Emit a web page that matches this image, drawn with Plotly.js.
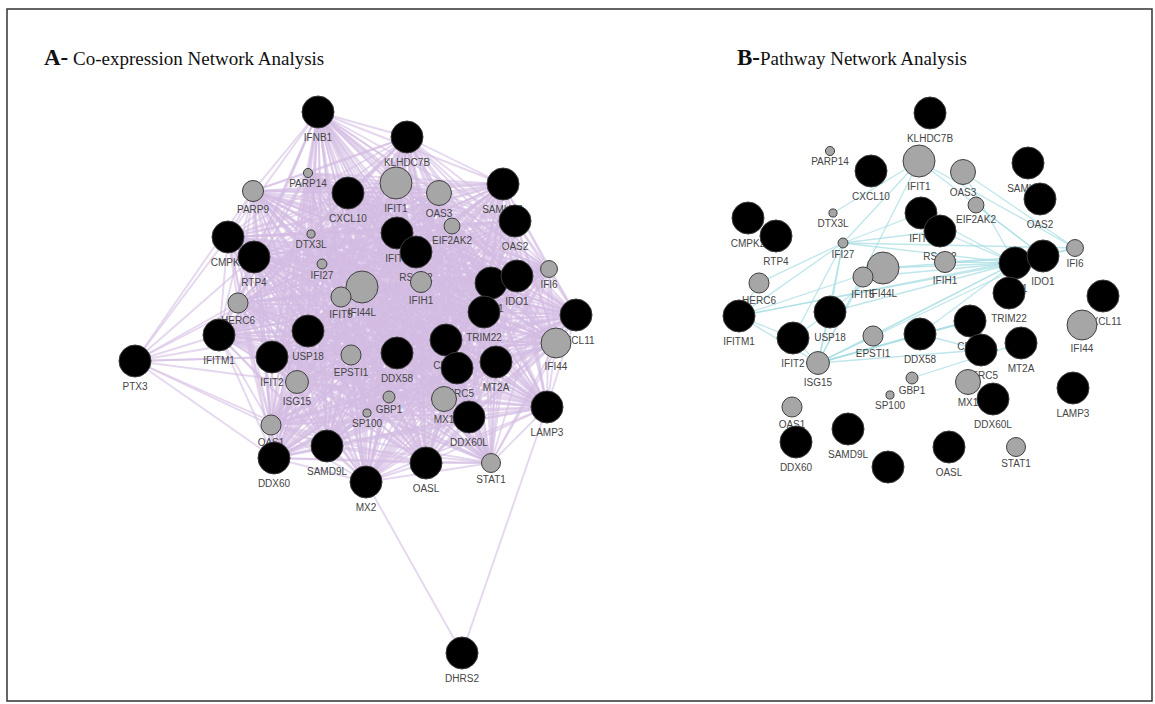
<!DOCTYPE html>
<html><head><meta charset="utf-8">
<script src="https://cdn.plot.ly/plotly-3.0.1.min.js"></script>
<style>html,body{margin:0;padding:0;background:#fff}#chart{width:1155px;height:704px}</style>
</head><body><div id="chart"></div>
<script>
// ---------------- DATA ----------------
// Query genes (black nodes)
const queryGenes = ['IFNB1','KLHDC7B','CXCL10','SAMHD1','OAS2','IFIT3','RSAD2','CMPK2','RTP4','IDO1','XAF1','TRIM22','CXCL11','IFITM1','USP18','IFIT2','DDX58','CD38','HERC5','MT2A','DDX60L','LAMP3','DDX60','SAMD9L','MX2','OASL','PTX3','DHRS2'];
// Related genes (grey nodes) and their scores
const relatedGenes = ['PARP14','PARP9','IFIT1','OAS3','EIF2AK2','IFIH1','DTX3L','IFI27','IFI44L','IFIT5','IFI6','HERC6','ISG15','EPSTI1','GBP1','SP100','MX1','IFI44','OAS1','STAT1'];
const relatedScore = [0.12,0.58,1.0,0.73,0.38,0.58,0.08,0.15,1.0,0.54,0.42,0.54,0.65,0.54,0.23,0.08,0.73,0.92,0.54,0.50];

// Panel A: co-expression network layout (layout coordinates)
const nodesA = ['IFNB1','KLHDC7B','PARP14','PARP9','CXCL10','IFIT1','OAS3','SAMHD1','OAS2','EIF2AK2','DTX3L','IFI27','CMPK2','RTP4','IFIT3','RSAD2','IFIH1','IFI44L','IFIT5','IFI6','XAF1','IDO1','TRIM22','CXCL11','IFI44','HERC6','IFITM1','PTX3','USP18','IFIT2','ISG15','EPSTI1','DDX58','CD38','HERC5','MT2A','GBP1','SP100','MX1','DDX60L','LAMP3','OAS1','DDX60','SAMD9L','MX2','OASL','STAT1','DHRS2'];
const layoutXA = [318,407,308,253,348,396,439,503,515,452,311,322,228,254,397,416,421,362,341,549,491,517,484,576,556,238,219,135,308,272,297,351,397,446,457,496,389,367,444,469,547,271,274,327,366,426,491,462];
const layoutYA = [112,137,173,191,193,183,193,184,221,226,234,264,237,257,233,252,282,287,297,269,283,276,312,315,343,303,335,361,331,357,382,355,353,340,368,362,397,413,399,417,407,425,458,446,482,463,463,653];
const ptx3Links = ['PARP9','CMPK2','RTP4','HERC6','IFITM1','IFIT2','USP18','ISG15','OAS1','DDX60','EPSTI1','IFI27','SAMD9L'];
const dhrs2Links = ['MX2','LAMP3'];

// Panel B: pathway network layout
const nodesB = ['KLHDC7B','PARP14','IFIT1','CXCL10','OAS3','SAMHD1','OAS2','EIF2AK2','IFIT3','RSAD2','IFIH1','DTX3L','IFI27','CMPK2','RTP4','IFI44L','IFIT5','IFI6','XAF1','IDO1','TRIM22','CXCL11','IFI44','HERC6','IFITM1','USP18','IFIT2','EPSTI1','ISG15','DDX58','CD38','HERC5','MT2A','GBP1','SP100','MX1','DDX60L','LAMP3','OAS1','DDX60','SAMD9L','MX2','OASL','STAT1'];
const layoutXB = [930,830,919,871,963,1028,1040,976,921,940,945,833,843,748,776,883,863,1075,1015,1043,1009,1103,1082,759,739,830,793,873,818,920,970,981,1021,912,890,968,993,1073,792,796,848,888,949,1016];
const layoutYB = [113,151,161,171,172,163,199,205,213,231,262,213,243,218,236,268,277,248,263,256,293,296,325,283,316,312,338,336,363,334,321,350,343,378,395,382,399,388,407,442,429,467,447,447];
const edgeFromB = ['IFIT1','IFIT1','IFIT1','IFIT1','OAS3','OAS3','EIF2AK2','IFIT3','IFIT3','RSAD2','RSAD2','IFIH1','DTX3L','IFI27','IFI27','IFI27','IFI27','IFI27','IFI27','IFI27','IFI44L','IFI44L','IFIT5','IFIT5','HERC6','IFITM1','IFITM1','IFITM1','IFITM1','USP18','USP18','USP18','IFIT2','IFIT2','ISG15','ISG15','ISG15','ISG15','ISG15','ISG15','EPSTI1','DDX58','DDX58','DDX58','GBP1','IFIH1','IFI6','IFI6','XAF1','ISG15','IFITM1'];
const edgeToB   = ['IFI27','ISG15','IDO1','IFI6','IFI6','XAF1','IDO1','IFI27','XAF1','IFI27','XAF1','XAF1','IFIT1','XAF1','IFI6','ISG15','IFITM1','HERC6','USP18','IFIT2','XAF1','IDO1','XAF1','ISG15','IFITM1','IFI44L','IFIT2','ISG15','XAF1','ISG15','IFI44L','XAF1','ISG15','USP18','EPSTI1','DDX58','CD38','HERC5','XAF1','IDO1','XAF1','CD38','HERC5','XAF1','MT2A','IDO1','IDO1','XAF1','IDO1','CD38','IDO1'];

// ---------------- BUILD ----------------
function nodeInfo(name){
  const qi = queryGenes.indexOf(name);
  if (qi >= 0) return {query:true, score:1};
  return {query:false, score: relatedScore[relatedGenes.indexOf(name)]};
}
function diam(score){ return 6 + 26*score; }

function edgeTrace(names, xs, ys, pairs, color, width){
  const ex=[], ey=[];
  pairs.forEach(([a,b])=>{
    const i=names.indexOf(a), j=names.indexOf(b);
    if(i<0||j<0) return;
    ex.push(xs[i], xs[j], null); ey.push(ys[i], ys[j], null);
  });
  return {type:'scatter', mode:'lines', x:ex, y:ey, hoverinfo:'skip', showlegend:false,
          line:{color:color, width:width}};
}

function nodeTraces(names, xs, ys){
  return names.map((n,i)=>{
    const info = nodeInfo(n);
    return {type:'scatter', mode:'markers+text', x:[xs[i]], y:[ys[i]], text:[n],
      textposition:'bottom center', cliponaxis:false, showlegend:false, hoverinfo:'text',
      textfont:{family:'Arial, Liberation Sans, sans-serif', size:10, color:'#454545'},
      marker:{size:diam(info.score), color: info.query ? '#000000' : '#a6a6a6',
              line:{color: info.query ? '#3a3a3a' : '#404040', width:1}}};
  });
}

// Panel A edges: dense co-expression among core genes + PTX3 / DHRS2 links
const coreA = nodesA.filter(n=>n!=='PTX3' && n!=='DHRS2');
const pairsA = [];
for(let i=0;i<coreA.length;i++) for(let j=i+1;j<coreA.length;j++) pairsA.push([coreA[i],coreA[j]]);
ptx3Links.forEach(t=>pairsA.push(['PTX3',t]));
dhrs2Links.forEach(t=>pairsA.push(['DHRS2',t]));
const pairsB = edgeFromB.map((a,i)=>[a, edgeToB[i]]);

const traces = [];
traces.push(edgeTrace(nodesA, layoutXA, layoutYA, pairsA, 'rgba(212,188,226,0.6)', 1.9));
traces.push(edgeTrace(nodesB, layoutXB, layoutYB, pairsB, 'rgba(168,222,228,0.75)', 1.3));
traces.push(...nodeTraces(nodesA, layoutXA, layoutYA));
traces.push(...nodeTraces(nodesB, layoutXB, layoutYB));

const layout = {
  width:1155, height:704, margin:{l:0,r:0,t:0,b:0},
  paper_bgcolor:'#ffffff', plot_bgcolor:'#ffffff', showlegend:false,
  xaxis:{range:[0,1155], visible:false, fixedrange:true},
  yaxis:{range:[704,0], visible:false, fixedrange:true},
  shapes:[
    {type:'rect', xref:'x', yref:'y', x0:700, x1:1150, y0:484, y1:530, fillcolor:'#ffffff', line:{width:0}, layer:'above'},
    {type:'rect', xref:'x', yref:'y', x0:7, x1:1152, y0:9, y1:701, line:{color:'#333333', width:1.5}, fillcolor:'rgba(0,0,0,0)', layer:'above'}
  ],
  annotations:[
    {xref:'x', yref:'y', x:42, y:57, xanchor:'left', yanchor:'middle', showarrow:false,
     text:'<b><span style="font-size:23px">A-</span></b> Co-expression Network Analysis',
     font:{family:'Liberation Serif, Times New Roman, serif', size:19, color:'#111'}},
    {xref:'x', yref:'y', x:735, y:57, xanchor:'left', yanchor:'middle', showarrow:false,
     text:'<b><span style="font-size:23px">B-</span></b>Pathway Network Analysis',
     font:{family:'Liberation Serif, Times New Roman, serif', size:19, color:'#111'}}
  ]
};
Plotly.newPlot('chart', traces, layout, {displayModeBar:false, staticPlot:true});
</script>
</body></html>
